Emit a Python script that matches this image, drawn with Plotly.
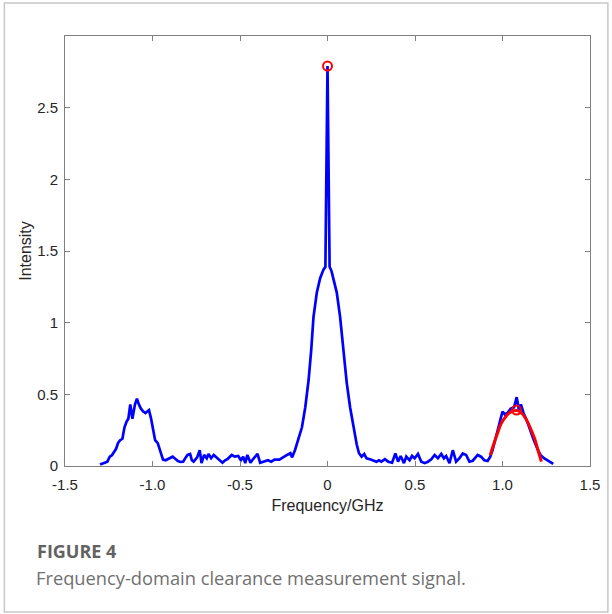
import plotly.graph_objects as go

freq = [-1.300, -1.285, -1.273, -1.258, -1.244, -1.232, -1.220, -1.208, -1.197, -1.185,
        -1.172, -1.160, -1.148, -1.138, -1.127, -1.115, -1.100, -1.089, -1.078, -1.066,
        -1.053, -1.040, -1.030, -1.020, -1.008, -0.996, -0.985, -0.970, -0.960, -0.950,
        -0.940, -0.925, -0.905, -0.885, -0.870, -0.855, -0.840, -0.825, -0.810, -0.800,
        -0.785, -0.775, -0.765, -0.745, -0.730, -0.720, -0.705, -0.690, -0.680, -0.665,
        -0.650, -0.635, -0.615, -0.600, -0.585, -0.570, -0.547, -0.530, -0.510, -0.495,
        -0.482, -0.470, -0.458, -0.440, -0.424, -0.400, -0.385, -0.365, -0.340, -0.322,
        -0.303, -0.275, -0.250, -0.231, -0.212, -0.203, -0.186, -0.170, -0.155, -0.146,
        -0.127, -0.108, -0.093, -0.080, -0.061, -0.042, -0.023, -0.012, 0.000, 0.012,
        0.023, 0.034, 0.053, 0.072, 0.091, 0.110, 0.129, 0.148, 0.167, 0.180,
        0.195, 0.210, 0.223, 0.243, 0.261, 0.280, 0.294, 0.308, 0.328, 0.347,
        0.369, 0.388, 0.403, 0.418, 0.437, 0.450, 0.469, 0.483, 0.498, 0.517,
        0.536, 0.555, 0.574, 0.593, 0.612, 0.631, 0.650, 0.665, 0.678, 0.697,
        0.716, 0.735, 0.754, 0.773, 0.792, 0.811, 0.830, 0.849, 0.858, 0.877,
        0.896, 0.915, 0.930, 0.943, 0.962, 0.980, 1.000, 1.013, 1.028, 1.047,
        1.066, 1.081, 1.094, 1.105, 1.120, 1.138, 1.157, 1.176, 1.199, 1.217,
        1.237, 1.256, 1.275, 1.290]
intensity = [0.010, 0.015, 0.023, 0.030, 0.065, 0.075, 0.100, 0.120, 0.160, 0.180,
             0.190, 0.270, 0.310, 0.330, 0.430, 0.330, 0.430, 0.470, 0.430, 0.400,
             0.380, 0.370, 0.380, 0.390, 0.330, 0.250, 0.180, 0.160, 0.120, 0.070,
             0.045, 0.040, 0.050, 0.065, 0.050, 0.035, 0.028, 0.030, 0.060, 0.077,
             0.084, 0.040, 0.030, 0.060, 0.110, 0.020, 0.077, 0.054, 0.084, 0.054,
             0.077, 0.060, 0.040, 0.023, 0.040, 0.050, 0.077, 0.065, 0.070, 0.040,
             0.065, 0.020, 0.077, 0.023, 0.050, 0.084, 0.023, 0.030, 0.040, 0.030,
             0.045, 0.045, 0.060, 0.077, 0.090, 0.060, 0.110, 0.180, 0.240, 0.270,
             0.410, 0.600, 0.810, 1.040, 1.210, 1.310, 1.370, 1.390, 2.790, 1.390,
             1.360, 1.300, 1.210, 1.040, 0.810, 0.580, 0.410, 0.270, 0.150, 0.089,
             0.065, 0.084, 0.054, 0.047, 0.037, 0.030, 0.040, 0.030, 0.047, 0.030,
             0.023, 0.088, 0.030, 0.070, 0.020, 0.065, 0.040, 0.070, 0.054, 0.084,
             0.030, 0.020, 0.030, 0.047, 0.077, 0.054, 0.084, 0.054, 0.070, 0.020,
             0.110, 0.030, 0.054, 0.088, 0.077, 0.030, 0.037, 0.065, 0.077, 0.065,
             0.040, 0.035, 0.065, 0.110, 0.200, 0.270, 0.380, 0.360, 0.370, 0.400,
             0.410, 0.480, 0.390, 0.430, 0.370, 0.320, 0.250, 0.190, 0.120, 0.077,
             0.054, 0.040, 0.020, 0.015]

fit_freq = [0.930, 0.952, 0.972, 0.990, 1.010, 1.038, 1.066, 1.085, 1.114, 1.138,
            1.161, 1.184, 1.203, 1.222]
fit_intensity = [0.077, 0.160, 0.230, 0.290, 0.330, 0.370, 0.386, 0.386, 0.363, 0.320,
                 0.260, 0.190, 0.110, 0.030]

peak_freq = [0.0, 1.08]
peak_intensity = [2.79, 0.39]

x_ticks = [-1.5, -1.0, -0.5, 0, 0.5, 1.0, 1.5]
x_tick_labels = ["-1.5", "-1.0", "-0.5", "0", "0.5", "1.0", "1.5"]
y_ticks = [0, 0.5, 1, 1.5, 2, 2.5]
y_tick_labels = ["0", "0.5", "1", "1.5", "2", "2.5"]

axis_font = "Liberation Sans, Arial, sans-serif"
axis_col = "#808080"
text_col = "#262626"

fig = go.Figure()
fig.add_trace(go.Scatter(x=freq, y=intensity, mode="lines",
                         line=dict(color="#0000ff", width=2.7), showlegend=False))
fig.add_trace(go.Scatter(x=fit_freq, y=fit_intensity, mode="lines",
                         line=dict(color="#ff0000", width=3, shape="spline"), showlegend=False))
fig.add_trace(go.Scatter(x=peak_freq, y=peak_intensity, mode="markers",
                         marker=dict(symbol="circle-open", color="#ff0000", size=9,
                                     line=dict(width=2, color="#ff0000")),
                         showlegend=False))

fig.update_layout(
    width=612, height=614,
    margin=dict(l=65, r=19, t=36, b=148),
    paper_bgcolor="white", plot_bgcolor="white",
    font=dict(family=axis_font, size=15, color=text_col),
    xaxis=dict(range=[-1.5, 1.5], tickvals=x_ticks, ticktext=x_tick_labels,
               showgrid=False, zeroline=False, showline=True, linecolor=axis_col,
               linewidth=1, mirror="ticks", ticks="inside", ticklen=5,
               tickcolor=axis_col, tickfont=dict(size=15, color=text_col),
               ticklabelstandoff=5,
               title=dict(text="Frequency/GHz", font=dict(size=16, color=text_col),
                          standoff=7)),
    yaxis=dict(range=[0, 3], tickvals=y_ticks, ticktext=y_tick_labels,
               showgrid=False, zeroline=False, showline=True, linecolor=axis_col,
               linewidth=1, mirror="ticks", ticks="inside", ticklen=5,
               tickcolor=axis_col, tickfont=dict(size=15, color=text_col),
               ticklabelstandoff=3,
               title=dict(text="Intensity", font=dict(size=16, color=text_col),
                          standoff=1)),
)

# outer figure border
fig.add_shape(type="rect", xref="paper", yref="paper",
              x0=(4 - 65) / 528, x1=(611 - 65) / 528,
              y0=(466 - 612) / 430, y1=(466 - 3) / 430,
              line=dict(color="#c8c8c8", width=1.5), layer="below")

cap_font = "Open Sans, Noto Sans, sans-serif"
fig.add_annotation(text="<b>FIGURE 4</b>", xref="paper", yref="paper",
                   x=(35 - 65) / 528, y=(466 - 551) / 430, xanchor="left", yanchor="middle",
                   showarrow=False, font=dict(family=cap_font, size=18, color="#626262"))
fig.add_annotation(text="Frequency-domain clearance measurement signal.", xref="paper", yref="paper",
                   x=(34 - 65) / 528, y=(466 - 577) / 430, xanchor="left", yanchor="middle",
                   showarrow=False, font=dict(family=cap_font, size=18.3, color="#707070"))

fig.write_html("out.html", config={"displayModeBar": False},
               post_script="document.body.style.margin='0';document.body.style.padding='0';")
